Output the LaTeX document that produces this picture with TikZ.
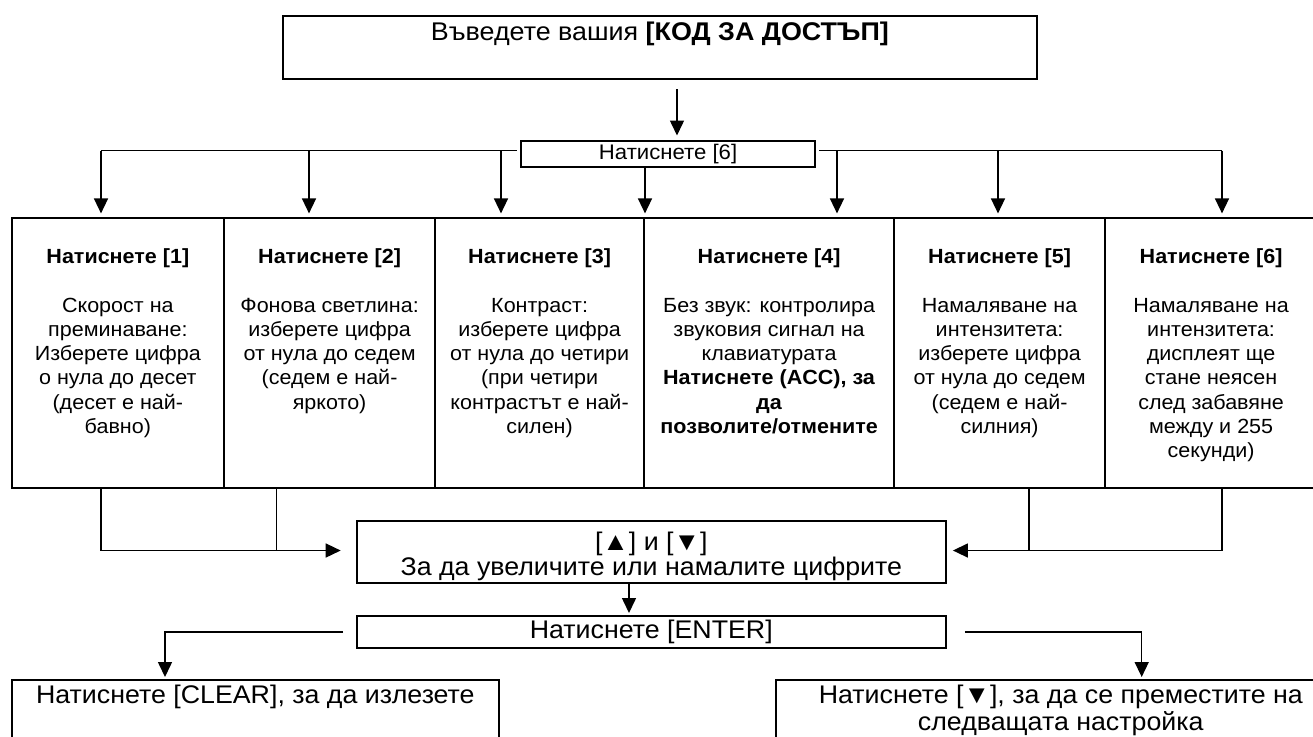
\documentclass[tikz,border=0pt]{standalone}
\usepackage{fontspec}
\setmainfont[FakeStretch=1.05]{Liberation Sans}
\usetikzlibrary{arrows.meta,calc}
\tikzset{
  box/.style={draw, line width=1.1pt, inner sep=0pt, anchor=north west},
  conn/.style={line width=.75pt},
  arr/.style={conn, -{Triangle[width=7pt,length=7.5pt]}},
  coltext/.style={anchor=north, align=center, inner sep=0pt, font=\fontsize{10.25pt}{12.15pt}\selectfont},
  bigtext/.style={anchor=north, align=center, inner sep=0pt, font={\fontsize{12.75pt}{12.5pt}\selectfont\lineskiplimit-20pt}},
}
\newcommand{\firstline}[1]{\rule{0pt}{#1}}
\begin{document}
\begin{tikzpicture}[x=0.5pt,y=-0.5pt]
\useasboundingbox[fill=white] (0,0) rectangle (1313,736);

\node[box, minimum width=377.2pt, minimum height=31.5pt] (top) at (281.6,15) {};
\node[anchor=base, inner sep=0pt, font=\fontsize{12.8pt}{15pt}\selectfont] (toptext) at ($(top.north)+(0,25.7)$) {Въведете вашия \textbf{[КОД ЗА ДОСТЪП]}};
\node[box, minimum width=147pt, minimum height=13pt, font=\fontsize{10.55pt}{12pt}\selectfont] (p6) at (520,140) {Натиснете [6]};

\node[box, minimum width=106.25pt, minimum height=135pt] (c1) at (10.5,217) {};
\node[box, minimum width=105.5pt, minimum height=135pt] (c2) at (223,217) {};
\node[box, minimum width=104.5pt, minimum height=135pt] (c3) at (434,217) {};
\node[box, minimum width=125pt, minimum height=135pt] (c4) at (643,217) {};
\node[box, minimum width=105.5pt, minimum height=135pt] (c5) at (893,217) {};
\node[box, minimum width=106pt, minimum height=135pt] (c6) at (1104,217) {};

\node[coltext] (t1) at ($(c1.north)+(0,26)$) {\firstline{10pt}\textbf{Натиснете [1]}\\[12.15pt] Скорост на\\ преминаване:\\ Изберете цифра\\ о нула до десет\\ (десет е най-\\ бавно)};
\node[coltext] (t2) at ($(c2.north)+(0,26)$) {\firstline{10pt}\textbf{Натиснете [2]}\\[12.15pt] Фонова светлина:\\ изберете цифра\\ от нула до седем\\ (седем е най-\\ яркото)};
\node[coltext] (t3) at ($(c3.north)+(0,26)$) {\firstline{10pt}\textbf{Натиснете [3]}\\[12.15pt] Контраст:\\ изберете цифра\\ от нула до четири\\ (при четири\\ контрастът е най-\\ силен)};
\node[coltext] (t4) at ($(c4.north)+(0,26)$) {\firstline{10pt}\textbf{Натиснете [4]}\\[12.15pt] Без звук: контролира\\ звуковия сигнал на\\ клавиатурата\\ \textbf{Натиснете (ACC), за}\\ \textbf{да}\\ \textbf{позволите/отмените}};
\node[coltext] (t5) at ($(c5.north)+(0,26)$) {\firstline{10pt}\textbf{Натиснете [5]}\\[12.15pt] Намаляване на\\ интензитета:\\ изберете цифра\\ от нула до седем\\ (седем е най-\\ силния)};
\node[coltext] (t6) at ($(c6.north)+(0,26)$) {\firstline{10pt}\textbf{Натиснете [6]}\\[12.15pt] Намаляване на\\ интензитета:\\ дисплеят ще\\ стане неясен\\ след забавяне\\ между и 255\\ секунди)};

\node[box, minimum width=294.5pt, minimum height=31pt] (mid) at (355.7,520) {};
\node[bigtext] (midtext) at ($(mid.north)+(0,6)$) {\firstline{12pt}[▲] и [▼]\\ За да увеличите или намалите цифрите};
\node[box, minimum width=294.5pt, minimum height=16pt, font=\fontsize{12.75pt}{15pt}\selectfont] (enter) at (355.7,615) {Натиснете [ENTER]};
\node[box, minimum width=243.75pt, minimum height=35pt] (clear) at (10.5,679) {};
\node[bigtext] (cleartext) at (clear.north) {\firstline{12pt}Натиснете [CLEAR], за да излезете};
\node[box, minimum width=285pt, minimum height=35pt] (next) at (774.7,679) {};
\node[bigtext, font=\fontsize{12.75pt}{13.5pt}\selectfont] (nexttext) at (next.north) {\firstline{12pt}Натиснете [▼], за да се преместите на\\ следващата настройка};

\coordinate (ysplit) at (0,150.5);
\coordinate (ycol) at (0,550.5);
\foreach \n/\x in {a1/101,a2/309,a3/501,a4/645,a5/837,a6/998,a7/1222,b1/101,b2/276.5,b3/1029,b4/1222,m/629,cl/165,nx/1141.7,t/677}
  \coordinate (x\n) at (\x,0);

\draw[arr, shorten <=4.5pt, shorten >=2.25pt] (top.south -| xt) -- (p6.north -| xt);
\draw[conn] ([xshift=-1.6pt]p6.west |- ysplit) -- (ysplit -| xa1);
\draw[conn] ([xshift=1.6pt]p6.east |- ysplit) -- (ysplit -| xa7);
\foreach \x/\c in {xa1/c1,xa2/c2,xa3/c3,xa5/c4,xa6/c5,xa7/c6}
  \draw[arr, shorten >=1.8pt] (ysplit -| \x) -- (\c.north -| \x);
\draw[arr, shorten >=1.8pt] (p6.south -| xa4) -- (c4.north -| xa4);

\draw[arr, shorten >=7.5pt] (c1.south -| xb1) -- (ycol -| xb1) -- (mid.west |- ycol);
\draw[conn] (c2.south -| xb2) -- (ycol -| xb2);
\draw[arr, shorten >=3pt] (c6.south -| xb4) -- (ycol -| xb4) -- (mid.east |- ycol);
\draw[conn] (c5.south -| xb3) -- (ycol -| xb3);

\draw[arr, shorten >=1pt] (mid.south -| xm) -- (enter.north -| xm);
\draw[arr, shorten <=6.3pt, shorten >=1pt] (enter.west) -| (clear.north -| xcl);
\draw[arr, shorten <=9pt, shorten >=1pt] (enter.east) -| (next.north -| xnx);
\end{tikzpicture}
\end{document}
